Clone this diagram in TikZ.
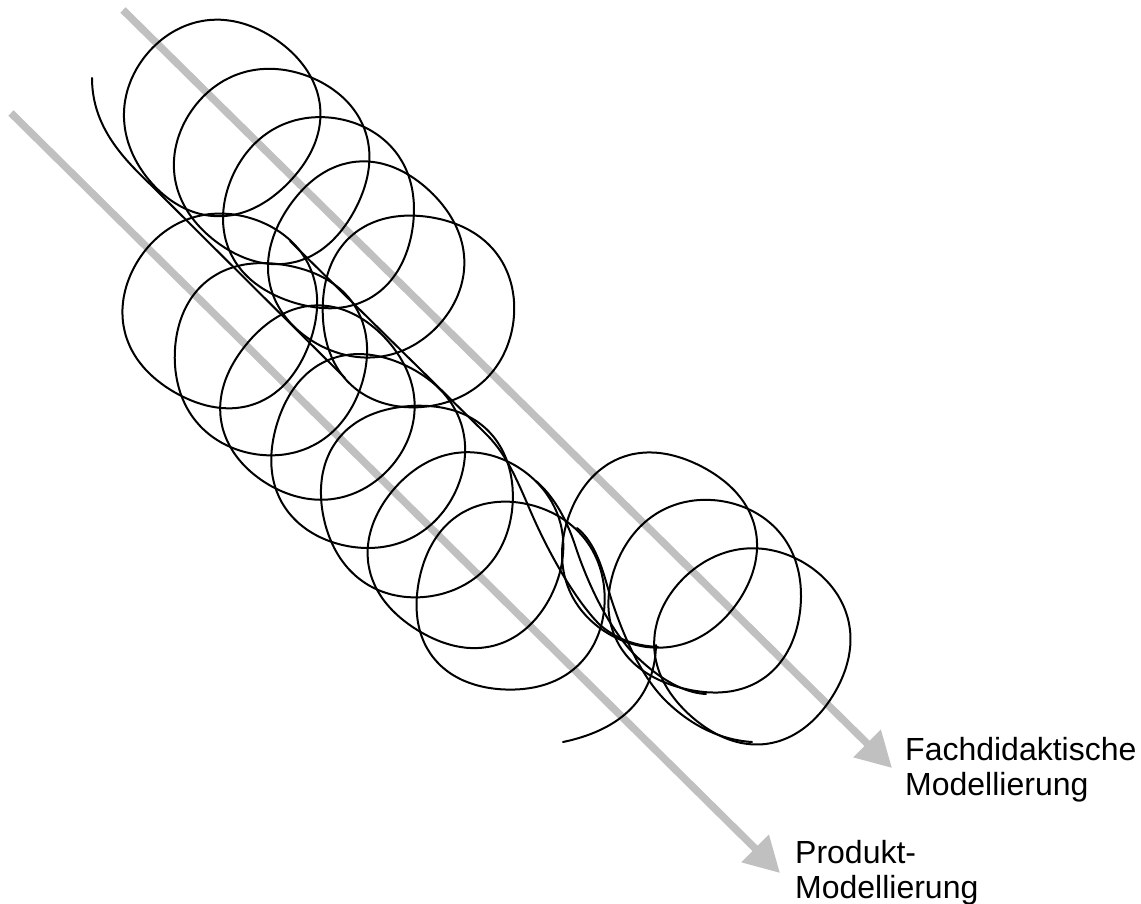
\documentclass[tikz,border=0pt]{standalone}
\usepackage{fontspec}
\setmainfont{Liberation Sans}
\usetikzlibrary{arrows.meta}
\definecolor{arrowgray}{RGB}{192,192,192}
\tikzset{
  ink/.style={black, line width=2pt, line cap=round, line join=round},
  flow/.style={arrowgray, line width=7.5pt, -{Triangle[length=35pt,width=37pt]}},
  lbl/.style={inner sep=0pt, anchor=north west, align=left,
    font=\fontsize{32}{35}\selectfont}
}
% hand-drawn loop: cx, cy, r, phase a, phase b
\newcommand{\handloop}[5]{%
  \draw[ink] plot[domain=0:352.5, samples=48, smooth cycle, variable=\t]
    ({#1+#3*(1+0.013*cos(4*\t+#4)+0.016*cos(3*\t+#5))*cos(\t)},
     {#2+#3*(1+0.013*cos(4*\t+#4)+0.016*cos(3*\t+#5))*sin(\t)});
}
\begin{document}
\begin{tikzpicture}[x=1pt,y=-1pt]
\useasboundingbox (0,0) rectangle (1141,904);
\fill[white] (0,0) rectangle (1141,904);

% gray arrows and labels
\coordinate (f0) at (123,10);
\coordinate (f1) at (892,768);
\coordinate (p0) at (11,113);
\coordinate (p1) at (780,873);
\draw[flow] (f0) -- (f1);
\draw[flow] (p0) -- (p1);
\node[lbl] (fach) at (905,737) {Fachdidaktische\\Modellierung};
\node[lbl] (prod) at (795,840) {Produkt-\\Modellierung};

% upper chain of loops
\handloop{221}{117}{97}{10}{40}
\handloop{272}{165}{97}{60}{110}
\handloop{320}{213}{96}{120}{200}
\handloop{366}{261}{97}{30}{280}
\handloop{417}{311}{97}{170}{20}

% lower chain of loops
\handloop{221}{310}{97}{80}{150}
\handloop{270}{358}{97}{140}{60}
\handloop{318}{404}{96}{20}{250}
\handloop{367}{452}{97}{100}{330}
\handloop{417}{500}{97}{200}{90}
\handloop{467}{550}{97}{50}{180}
\handloop{510}{597}{95}{150}{300}

% right chain of loops
\handloop{658}{550}{97}{70}{10}
\handloop{706}{597}{97}{130}{220}
\handloop{753}{645}{97}{30}{120}

% strands
\draw[ink] (92,78) .. controls (92,128) and (125,160) .. (152,186) -- (345,378);
\draw[ink] (290,241) -- (484,432) .. controls (505,452) and (515,475) .. (530,510)
  .. controls (548,552) and (575,600) .. (600,625)
  .. controls (620,642) and (640,646) .. (658,647);
\draw[ink] (536,481) .. controls (552,495) and (565,515) .. (575,545)
  .. controls (588,585) and (610,630) .. (635,655)
  .. controls (660,680) and (685,693) .. (706,694);
\draw[ink] (577,528) .. controls (592,540) and (600,560) .. (607,585)
  .. controls (620,630) and (640,675) .. (665,700)
  .. controls (690,725) and (720,740) .. (752,742);
\draw[ink] (656,645) .. controls (655,690) and (630,728) .. (563,742);
\end{tikzpicture}
\end{document}
